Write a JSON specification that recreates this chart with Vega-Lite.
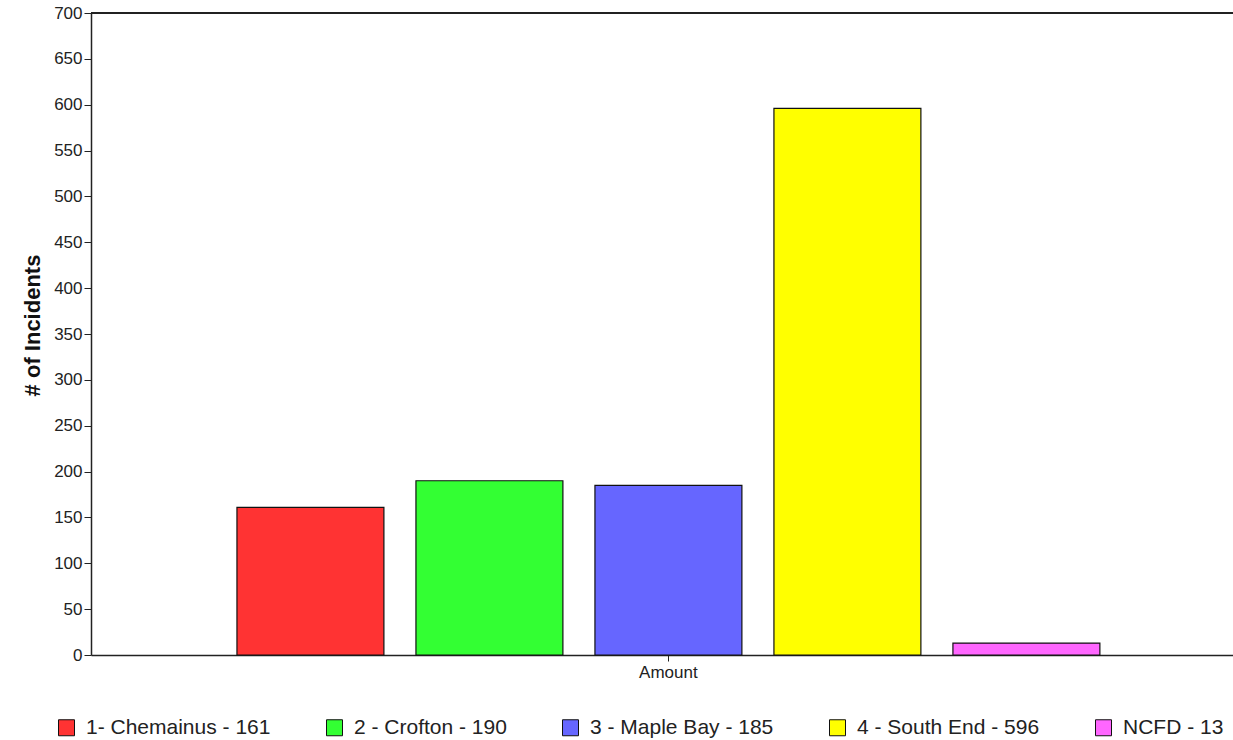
{
  "$schema": "https://vega.github.io/schema/vega-lite/v6.json",
  "autosize": {"type": "none"},
  "padding": {"left": 91, "top": 13, "right": 0, "bottom": 85},
  "width": 1142,
  "height": 642,
  "background": "white",
  "config": {
    "font": "Liberation Sans",
    "view": {"stroke": null},
    "axis": {"labelColor": "#222", "titleColor": "#111", "domainColor": "#222", "tickColor": "#222", "grid": false}
  },
  "data": {
    "values": [
      {"cat": "Amount", "district": "1- Chemainus - 161", "incidents": 161},
      {"cat": "Amount", "district": "2 - Crofton - 190", "incidents": 190},
      {"cat": "Amount", "district": "3 - Maple Bay - 185", "incidents": 185},
      {"cat": "Amount", "district": "4 - South End - 596", "incidents": 596},
      {"cat": "Amount", "district": "NCFD - 13", "incidents": 13}
    ]
  },
  "layer": [
    {
      "mark": {"type": "bar", "stroke": "#111", "strokeWidth": 1.2, "opacity": 1},
      "encoding": {
        "x": {
          "field": "cat", "type": "nominal",
          "scale": {"paddingInner": 0, "paddingOuter": 0.1617, "align": 0.523},
          "axis": {"title": null, "labelAngle": 0, "labelFontSize": 17, "labelPadding": 3, "tickSize": 6, "domainWidth": 1.5}
        },
        "xOffset": {
          "field": "district", "type": "nominal",
          "scale": {"paddingInner": 0.179, "paddingOuter": 0}
        },
        "y": {
          "field": "incidents", "type": "quantitative",
          "scale": {"domain": [0, 700], "nice": false},
          "axis": {
            "title": "# of Incidents", "titleFontSize": 22, "titleFontWeight": "bold",
            "titlePadding": 9, "titleY": 312, "values": [0,50,100,150,200,250,300,350,400,450,500,550,600,650,700],
            "labelFontSize": 17, "tickSize": 7, "labelPadding": 2, "domainWidth": 1.5
          }
        },
        "color": {
          "field": "district", "type": "nominal",
          "scale": {
            "domain": ["1- Chemainus - 161", "2 - Crofton - 190", "3 - Maple Bay - 185", "4 - South End - 596", "NCFD - 13"],
            "range": ["#FF3333", "#33FF33", "#6666FF", "#FFFF00", "#FF66FF"]
          },
          "legend": {
            "title": null, "orient": "none", "direction": "horizontal",
            "legendX": -35, "legendY": 704, "padding": 0,
            "symbolType": "square", "symbolSize": 256, "symbolStrokeColor": "#111", "symbolStrokeWidth": 1, "symbolOpacity": 1,
            "labelFontSize": 21, "labelColor": "#222", "labelOffset": 9, "columnPadding": 53, "labelLimit": 400
          }
        }
      }
    },
    {
      "mark": {"type": "rule", "color": "#222", "strokeWidth": 1.5},
      "encoding": {"y": {"datum": 700}}
    }
  ]
}
